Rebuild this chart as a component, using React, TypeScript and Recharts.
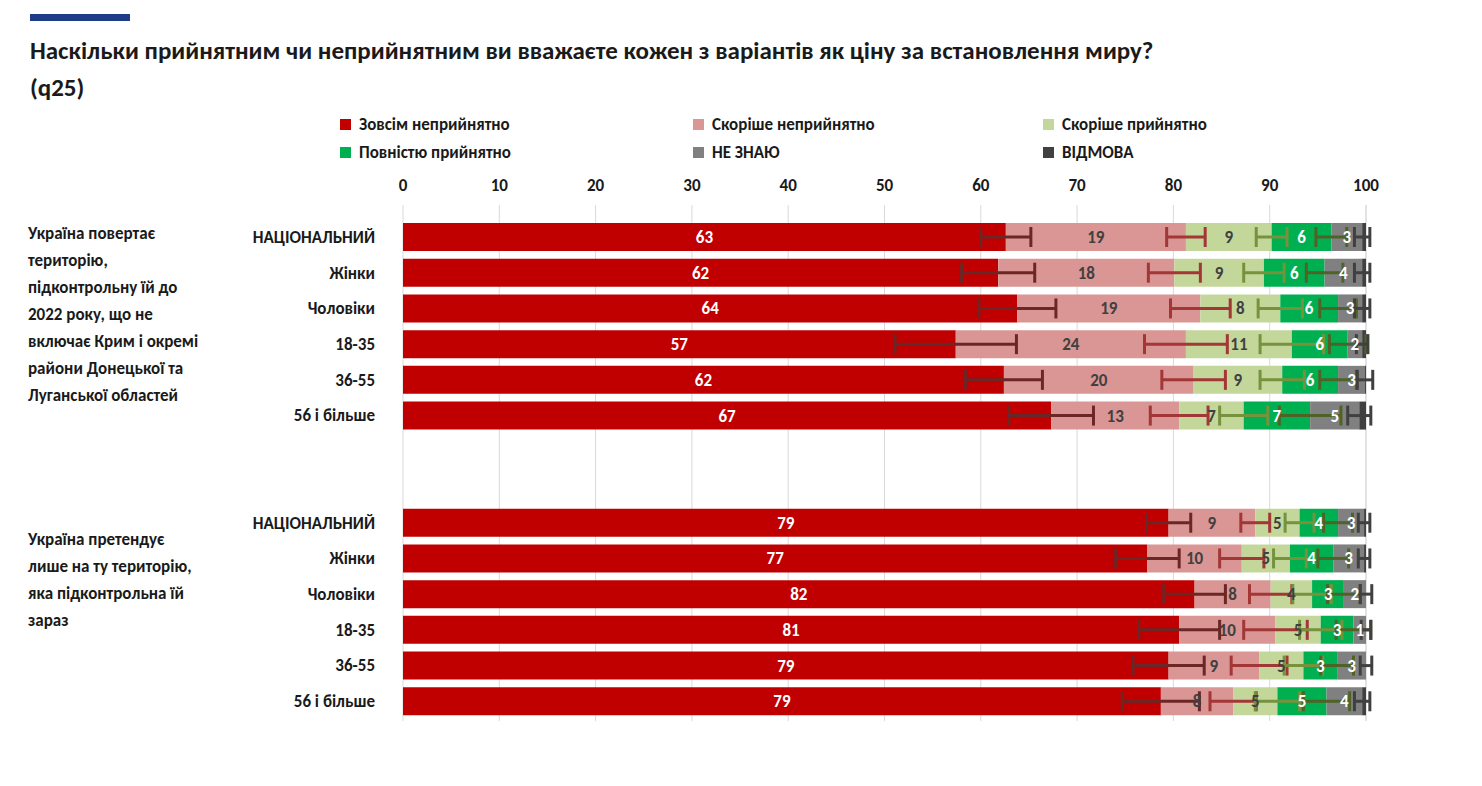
import React from "react";
import { BarChart, Bar, XAxis, YAxis, CartesianGrid, ErrorBar, LabelList } from "recharts";

const categories = ["НАЦІОНАЛЬНИЙ", "Жінки", "Чоловіки", "18-35", "36-55", "56 і більше", "", "", "НАЦІОНАЛЬНИЙ", "Жінки", "Чоловіки", "18-35", "36-55", "56 і більше"];
const seriesNames = ["Зовсім неприйнятно", "Скоріше неприйнятно", "Скоріше прийнятно", "Повністю прийнятно", "НЕ ЗНАЮ", "ВІДМОВА"];
const colors = ["#c00000", "#d99694", "#c4d79b", "#00b050", "#808080", "#404040"];
const errColors = ["#6b2626", "#a33636", "#76923c", "#4f6228", "#404040", "#404040"];
const labelColors = ["#ffffff", "#404040", "#404040", "#ffffff", "#ffffff", "#ffffff"];

// values (bar lengths)
const v0 = [62.6, 61.8, 63.8, 57.4, 62.4, 67.3, null, null, 79.5, 77.3, 82.2, 80.6, 79.5, 78.7];
const v1 = [18.7, 18.3, 19.0, 23.9, 19.7, 13.3, null, null, 9.0, 9.8, 7.9, 10.0, 9.4, 7.5];
const v2 = [8.9, 9.3, 8.3, 11.0, 9.2, 6.7, null, null, 4.6, 5.0, 4.3, 4.7, 4.6, 4.6];
const v3 = [6.2, 6.3, 6.0, 5.8, 5.8, 6.9, null, null, 4.0, 4.5, 3.3, 3.4, 3.5, 5.1];
const v4 = [3.2, 3.9, 2.5, 1.5, 2.8, 5.1, null, null, 2.7, 3.2, 2.3, 1.3, 3.0, 3.7];
const v5 = [0.4, 0.4, 0.4, 0.4, 0.1, 0.7, null, null, 0.2, 0.2, 0.0, 0.0, 0.0, 0.4];
// displayed labels
const l0 = ["63", "62", "64", "57", "62", "67", "", "", "79", "77", "82", "81", "79", "79"];
const l1 = ["19", "18", "19", "24", "20", "13", "", "", "9", "10", "8", "10", "9", "8"];
const l2 = ["9", "9", "8", "11", "9", "7", "", "", "5", "5", "4", "5", "5", "5"];
const l3 = ["6", "6", "6", "6", "6", "7", "", "", "4", "4", "3", "3", "3", "5"];
const l4 = ["3", "4", "3", "2", "3", "5", "", "", "3", "3", "2", "1", "3", "4"];
// error margins
const e0 = [2.6, 3.8, 4.0, 6.3, 4.0, 4.4, null, null, 2.3, 3.3, 3.2, 4.2, 3.7, 4.0];
const e1 = [2.0, 2.7, 3.1, 4.3, 3.3, 3.0, null, null, 1.5, 2.3, 2.2, 3.3, 2.9, 2.4];
const e2 = [1.6, 2.1, 2.3, 3.3, 2.3, 2.5, null, null, 1.5, 1.7, 2.0, 2.2, 2.0, 2.3];
const e3 = [1.6, 1.9, 1.9, 1.9, 1.9, 3.2, null, null, 1.5, 1.6, 1.7, 1.8, 1.7, 2.4];
const e4 = [0.8, 0.8, 0.8, 0.6, 0.8, 1.2, null, null, 0.6, 0.6, 0.6, 0.5, 0.6, 0.8];
const xTicks = [0, 10, 20, 30, 40, 50, 60, 70, 80, 90, 100];

const vals = [v0, v1, v2, v3, v4, v5];
const labs = [l0, l1, l2, l3, l4, null];
const errs = [e0, e1, e2, e3, e4, null];

const data = categories.map((c, i) => {
  const row: any = { key: "k" + i, name: c };
  vals.forEach((v, s) => {
    row["v" + s] = v[i];
    if (labs[s]) row["l" + s] = labs[s]![i];
    if (errs[s]) row["e" + s] = errs[s]![i];
  });
  return row;
});
const nameByKey: Record<string, string> = {};
data.forEach((d) => (nameByKey[d.key] = d.name));

const font = "Calibri, Carlito, 'Open Sans', 'Liberation Sans', sans-serif";

export default function App() {
  return (
    <div style={{ position: "absolute", left: 0, top: 0, width: 1482, height: 786, background: "#fff", fontFamily: font }}>
      <div style={{ position: "absolute", left: 30, top: 14, width: 100, height: 7, background: "#1f3c88" }} />
      <div style={{ position: "absolute", left: 30, top: 32, width: 1450, fontSize: 25, fontWeight: 700, color: "#1a1a1a", lineHeight: "37px" }}>
        Наскільки прийнятним чи неприйнятним ви вважаєте кожен з варіантів як ціну за встановлення миру?<br />(q25)
      </div>
      {seriesNames.map((n, i) => (
        <div key={n} style={{ position: "absolute", left: [340, 693, 1043][i % 3], top: i < 3 ? 114 : 142, fontSize: 17, fontWeight: 700, color: "#1a1a1a", display: "flex", alignItems: "center" }}>
          <span style={{ display: "inline-block", width: 11, height: 11, background: colors[i], marginRight: 8 }} />
          {n}
        </div>
      ))}
      <div style={{ position: "absolute", left: 28, top: 220, width: 175, fontSize: 17, fontWeight: 700, lineHeight: "27px", color: "#1a1a1a" }}>
        Україна повертає територію, підконтрольну їй до 2022 року, що не включає Крим і окремі райони Донецької та Луганської областей
      </div>
      <div style={{ position: "absolute", left: 28, top: 526, width: 175, fontSize: 17, fontWeight: 700, lineHeight: "27px", color: "#1a1a1a" }}>
        Україна претендує лише на ту територію, яка підконтрольна їй зараз
      </div>
      <div style={{ position: "absolute", left: 0, top: 0 }}>
        <BarChart width={1482} height={786} data={data} layout="vertical" barSize={28}
          margin={{ top: 180, right: 116, left: 188, bottom: 65 }}>
          <CartesianGrid horizontal={false} stroke="#d9d9d9" />
          <XAxis type="number" orientation="top" domain={[0, 100]} ticks={xTicks} height={25}
            axisLine={false} tickLine={false} tickMargin={8}
            tick={{ fill: "#1a1a1a", fontSize: 17, fontWeight: 700, fontFamily: font }} />
          <YAxis type="category" dataKey="key" width={215} axisLine={false} tickLine={false}
            padding={{ top: 14, bottom: 2 }} interval={0} tickMargin={22}
            tickFormatter={(k: string) => nameByKey[k]}
            tick={{ fill: "#1a1a1a", fontSize: 17, fontWeight: 700, fontFamily: font }} />
          {vals.map((_, s) => (
            <Bar key={s} dataKey={"v" + s} stackId="a" fill={colors[s]} isAnimationActive={false}>
              {labs[s] && (
                <LabelList dataKey={"l" + s} position="center" fill={labelColors[s]} fontSize={17} fontWeight={700} fontFamily={font} />
              )}
              {errs[s] && (
                <ErrorBar dataKey={"e" + s} direction="x" width={10} stroke={errColors[s]} strokeWidth={3} />
              )}
            </Bar>
          ))}
        </BarChart>
      </div>
    </div>
  );
}
